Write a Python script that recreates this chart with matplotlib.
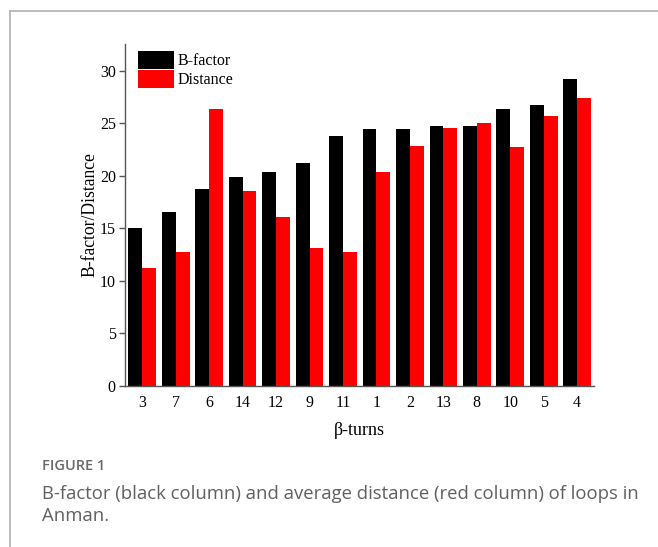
import matplotlib

matplotlib.use("Agg")
import matplotlib.pyplot as plt
import numpy as np
from matplotlib.lines import Line2D

# beta-turn loops, ordered by B-factor
turns = ["3", "7", "6", "14", "12", "9", "11", "1", "2", "13", "8", "10", "5", "4"]
b_factor = [15.0, 16.5, 18.7, 19.9, 20.3, 21.2, 23.8, 24.4, 24.4, 24.7, 24.7, 26.3, 26.7, 29.2]
distance = [11.2, 12.7, 26.3, 18.5, 16.1, 13.1, 12.7, 20.35, 22.8, 24.5, 25.0, 22.7, 25.65, 27.4]

caption_title = "FIGURE 1"
caption_text = "B-factor (black column) and average distance (red column) of loops in\nAnman."

plt.rcParams["font.family"] = ["Liberation Serif", "DejaVu Serif"]

fig = plt.figure(figsize=(6.58, 5.47), dpi=100)
ax = fig.add_axes([0.1907, 0.2949, 0.712, 0.6241])

x = np.arange(len(turns))
width = 0.415
ax.bar(x - width / 2, b_factor, width, color="black", label="B-factor")
ax.bar(x + width / 2, distance, width, color="#ff0000", label="Distance")

ax.set_xlim(-0.5, len(turns) - 0.5)
ax.set_ylim(0, 32.5)
ax.set_yticks([0, 5, 10, 15, 20, 25, 30])
ax.set_xticks(x)
ax.set_xticklabels(turns)

for side in ("top", "right"):
    ax.spines[side].set_visible(False)
for side in ("left", "bottom"):
    ax.spines[side].set_color("#555555")
    ax.spines[side].set_linewidth(1.0)

ax.tick_params(axis="x", length=0, pad=6.5, labelsize=11.5)
ax.tick_params(axis="y", length=4, width=1, color="#555555", pad=3, labelsize=11.5)

ax.set_ylabel("B-factor/Distance", fontsize=12.7, labelpad=1)
ax.set_xlabel("β-turns", fontsize=13, labelpad=8)

ax.legend(
    loc="upper left",
    bbox_to_anchor=(0.027, 0.981),
    frameon=False,
    fontsize=11.5,
    borderpad=0,
    borderaxespad=0,
    handlelength=2.25,
    handleheight=1.35,
    handletextpad=0.25,
    labelspacing=0.05,
)

# card border around the figure
fig.add_artist(Line2D([9.5 / 658, 9.5 / 658], [0, 1 - 11 / 547],
                      transform=fig.transFigure, color="#b0b0b0", lw=1.2))
fig.add_artist(Line2D([9.5 / 658, 1], [1 - 11 / 547, 1 - 11 / 547],
                      transform=fig.transFigure, color="#b0b0b0", lw=1.2))

fig.text(42 / 658, 1 - 466 / 547, caption_title, family=["Open Sans", "DejaVu Sans"],
         fontsize=10.5, fontweight="semibold", color="#6a6a6a", va="center", ha="left")
fig.text(42 / 658, 1 - 485 / 547, caption_text, family=["Open Sans", "DejaVu Sans"],
         fontsize=13.3, color="#606060", va="top", ha="left", linespacing=1.3)

fig.savefig("out.png", dpi=100)
